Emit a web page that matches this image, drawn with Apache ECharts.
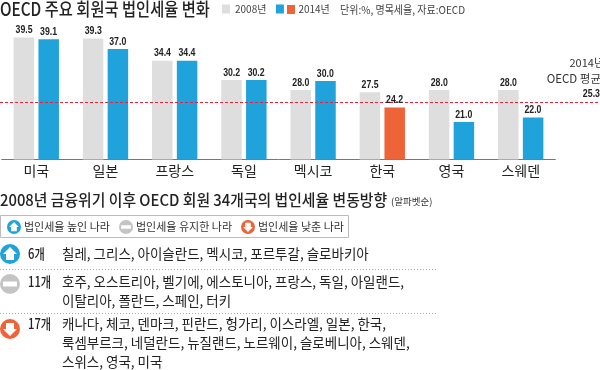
<!DOCTYPE html>
<html><head><meta charset="utf-8">
<style>html,body{margin:0;padding:0;background:#fff}#c{width:600px;height:370px}</style>
<script src="https://cdn.jsdelivr.net/npm/echarts@6/dist/echarts.min.js"></script>
</head><body><div id="c"></div>
<script>
const categories = ['미국','일본','프랑스','독일','멕시코','한국','영국','스웨덴'];
const values2008 = [39.5,39.3,34.4,30.2,28.0,27.5,28.0,28.0];
const values2014 = [39.1,37.0,34.4,30.2,30.0,24.2,21.0,22.0];
const highlightCategory = '한국';
const oecdAverage = 25.3;
const groupCounts = ['6개','11개','17개'];
const raisedLines = ['칠레, 그리스, 아이슬란드, 멕시코, 포르투갈, 슬로바키아'];
const keptLines = ['호주, 오스트리아, 벨기에, 에스토니아, 프랑스, 독일, 아일랜드,','이탈리아, 폴란드, 스페인, 터키'];
const loweredLines = ['캐나다, 체코, 덴마크, 핀란드, 헝가리, 이스라엘, 일본, 한국,','룩셈부르크, 네덜란드, 뉴질랜드, 노르웨이, 슬로베니아, 스웨덴,','스위스, 영국, 미국'];

const KR = '"Noto Sans CJK KR","Noto Sans",sans-serif';
const LAT = '"Liberation Sans",sans-serif';
const GRAY='#DEDEDE', BLUE='#1FA3DA', ORANGE='#EE6337', RED='#E5243B', MID='#C4C4C4', INK='#222';

function txt(x,y,s,size,opt){opt=opt||{};return {type:'text',x:x,y:y,scaleX:opt.sx||1,silent:true,z:opt.z||1,
  style:{text:s,fill:opt.c||INK,font:(opt.w||'400')+' '+size+'px '+(opt.f||KR),textVerticalAlign:'middle',textAlign:opt.a||'left'}};}
function icon(cx,cy,r,kind){
  const col = kind==='up'?BLUE:kind==='down'?ORANGE:MID;
  const s=r/10, els=[{type:'circle',shape:{cx:cx,cy:cy,r:r},style:{fill:col},silent:true}];
  if(kind==='up') els.push({type:'polygon',shape:{points:[[cx,cy-7*s],[cx+7*s,cy],[cx+4*s,cy],[cx+4*s,cy+6*s],[cx-4*s,cy+6*s],[cx-4*s,cy],[cx-7*s,cy]]},style:{fill:'#fff'},silent:true});
  if(kind==='down') els.push({type:'polygon',shape:{points:[[cx,cy+7*s],[cx+7*s,cy],[cx+4*s,cy],[cx+4*s,cy-6*s],[cx-4*s,cy-6*s],[cx-4*s,cy],[cx-7*s,cy]]},style:{fill:'#fff'},silent:true});
  if(kind==='flat') els.push({type:'rect',shape:{x:cx-7*s,y:cy-2.5*s,width:14*s,height:5*s},style:{fill:'#fff'},silent:true});
  return els;
}
function dotted(y){return {type:'line',shape:{x1:0,y1:y,x2:437,y2:y},style:{stroke:'#aaa',lineWidth:1,lineDash:[1,2]},silent:true};}
const g=[];
g.push(txt(0,9,'OECD 주요 회원국 법인세율 변화',18,{sx:0.85,w:'500'}));
g.push({type:'rect',shape:{x:287,y:5,width:8,height:9},style:{fill:ORANGE},silent:true});
g.push(txt(340,10,'단위:%, 명목세율, 자료:OECD',11,{c:'#444',sx:0.91}));
g.push(txt(604,63,'2014년',11,{a:'right',c:'#333'}));
g.push(txt(601,79,'OECD 평균',11.5,{a:'right',c:'#333'}));
g.push(txt(600,94,String(oecdAverage),11,{a:'right',f:LAT,w:'700',sx:0.8}));
g.push(txt(0,200,'2008년 금융위기 이후 OECD 회원 34개국의 법인세율 변동방향',15.5,{sx:0.957,w:'500'}));
g.push(txt(391,201,'(알파벳순)',9.5,{c:'#333'}));
g.push({type:'rect',shape:{x:0.5,y:215.5,width:348,height:22},style:{fill:'none',stroke:'#bbb',lineWidth:1},silent:true});
icon(14,227,7,'up').forEach(e=>g.push(e));
g.push(txt(24,226.5,'법인세율 높인 나라',11,{c:'#333'}));
icon(126,227,7,'flat').forEach(e=>g.push(e));
g.push(txt(136,226.5,'법인세율 유지한 나라',11,{c:'#333'}));
icon(248,227,7,'down').forEach(e=>g.push(e));
g.push(txt(258,226.5,'법인세율 낮춘 나라',11,{c:'#333'}));
icon(10,254,10,'up').forEach(e=>g.push(e));
icon(10,284,10,'flat').forEach(e=>g.push(e));
icon(10,329,10,'down').forEach(e=>g.push(e));
[254,282,324].forEach((y,i)=>g.push(txt(28,y,groupCounts[i],14,{sx:0.8,w:'500'})));
raisedLines.forEach((s,i)=>g.push(txt(62,254+i*18.5,s,14,{sx:0.963})));
keptLines.forEach((s,i)=>g.push(txt(62,282+i*18.5,s,14,{sx:0.963})));
loweredLines.forEach((s,i)=>g.push(txt(62,324+i*19,s,14,{sx:0.963})));
g.push(dotted(269.5));g.push(dotted(313.5));

function labelSeries(values,offset){
  return {type:'custom',silent:true,z:5,data:values.map((v,i)=>[i,v]),
    encode:{x:0,y:1},
    renderItem:(p,api)=>{
      const pt=api.coord([api.value(0),api.value(1)]);
      return {type:'text',x:pt[0]+offset,y:pt[1]-1.5,scaleX:0.76,silent:true,
        style:{text:api.value(1).toFixed(1),fill:'#222',font:'700 11.5px '+LAT,textAlign:'center',textVerticalAlign:'bottom'}};
    }};
}
const chart=echarts.init(document.getElementById('c'),null,{renderer:'canvas'});
chart.setOption({
  animation:false,backgroundColor:'#fff',
  grid:{left:1.7,width:553.6,top:35.2,height:124.3,containLabel:false},
  legend:{left:222,top:4,padding:0,itemWidth:8,itemHeight:9,itemGap:9.5,icon:'rect',selectedMode:false,
    textStyle:{fontSize:10,fontFamily:KR,color:'#444'},
    data:[{name:'2008년'},{name:'2014년',textStyle:{padding:[0,0,0,9.5]}}]},
  xAxis:{type:'category',data:categories,axisTick:{show:false},axisLine:{lineStyle:{color:'#777',width:1}},
    axisLabel:{fontSize:14,fontFamily:KR,color:INK,margin:4,interval:0}},
  yAxis:{type:'value',min:12.8,max:40,show:false},
  series:[
    {name:'2008년',type:'bar',data:values2008,barWidth:20.5,barGap:'21%',itemStyle:{color:GRAY},
     markLine:{silent:true,symbol:'none',label:{show:false},lineStyle:{color:RED,type:[3,2],width:1},
       data:[[{x:0,yAxis:oecdAverage},{x:600,yAxis:oecdAverage}]]}},
    {name:'2014년',type:'bar',data:values2014.map((v,i)=>categories[i]===highlightCategory?{value:v,itemStyle:{color:ORANGE}}:v),
     barWidth:20.5,itemStyle:{color:BLUE}},
    labelSeries(values2008,-12.25),
    labelSeries(values2014,12.25)
  ],
  graphic:g
});
</script></body></html>
